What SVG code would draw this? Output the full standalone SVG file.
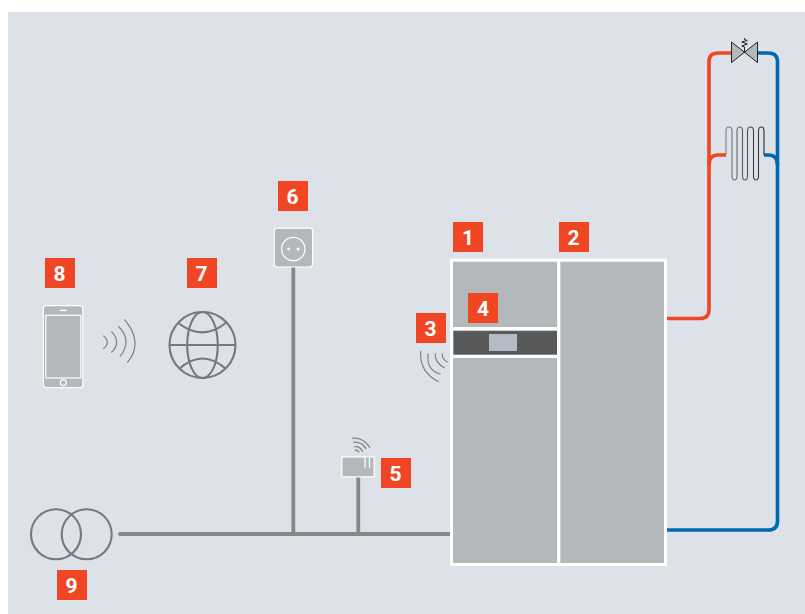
<svg xmlns="http://www.w3.org/2000/svg" width="805" height="614" viewBox="0 0 805 614">
<style>
.badge rect{fill:#f04623}
.badge text{font-family:"Roboto","Liberation Sans",sans-serif;font-weight:700;font-size:21px;fill:#fff;text-anchor:middle}
.wave{fill:none;stroke:#7d8488;stroke-width:1.2}
.icon{fill:none;stroke:#75797b;stroke-width:2.1}
.line{fill:none;stroke:#fff;stroke-width:1.2}
.body{fill:#b3b8bb;stroke:#fff;stroke-width:1.2}
.bus{fill:none;stroke:#858789;stroke-width:3.8;stroke-linecap:round}
.hot{fill:none;stroke:#f04623;stroke-width:3.6}
.cold{fill:none;stroke:#0069b4;stroke-width:3.6}
</style>
<defs>
<linearGradient id="tube" gradientUnits="userSpaceOnUse" x1="725" y1="0" x2="765" y2="0">
<stop offset="0" stop-color="#808285"/>
<stop offset="1" stop-color="#2a2a2c"/>
</linearGradient>
</defs>
<rect width="805" height="614" fill="#fff"/>
<rect x="8" y="12" width="797" height="602" fill="#dde2e9"/>
<g id="connectors">
<path class="bus" d="M120 534H450M293.300 268V534M358.300 477V534"/>
<path class="hot" d="M667 318.500H700Q709 318.500 709 309.500V62Q709 53 718 53H733"/>
<path class="hot" d="M709 165Q709 155 718 155H726"/>
<path class="cold" d="M667 530H768.500Q777.500 530 777.500 521V62Q777.500 53 768.500 53H757"/>
<path class="cold" d="M777.500 165Q777.500 155 768.500 155H764"/>
</g>
<g id="radiator">
<path d="M726 155V131Q726 127 729 127Q732 127 732 131V175.500Q732 180 734.500 180Q737 180 737 175.500V131Q737 127 739.800 127Q742.500 127 742.500 131V175.500Q742.500 180 745 180Q747.500 180 747.500 175.500V131Q747.500 127 750.500 127Q753.500 127 753.500 131V175.500Q753.500 180 756 180Q758.500 180 758.500 175.500V131Q758.500 127 761.300 127Q764 127 764 131V155" fill="none" stroke="url(#tube)" stroke-width="1.100"/>
</g>
<g id="valve">
<path d="M731.500 42L757.500 62.500V42L731.500 62.500Z" fill="#b3b8bb" stroke="#222" stroke-width="1"/>
<path d="M744.500 52V47L741.800 46L747.300 44L741.800 42L747.300 40.500L744.500 39.500V38" fill="none" stroke="#222" stroke-width="1"/>
</g>
<g id="node-1-2">
<rect x="451.500" y="260.200" width="214" height="304.300" fill="#b3b8bb" stroke="#fff" stroke-width="3"/>
<path d="M558.700 260V565" stroke="#fff" stroke-width="3.200"/>
</g>
<g id="node-4">
<rect x="453" y="327" width="104" height="31" fill="#fff"/>
<rect x="453.300" y="330.700" width="103.700" height="24" fill="#58595b"/>
<rect x="489" y="334" width="28" height="17" fill="#b3bac3"/>
</g>
<g id="node-3-waves">
<path class="wave" d="M420.700 351Q419 372 438.700 381.700M428.300 353.300Q425.500 369.600 440.700 374.300M435.300 353.300Q434.600 362.800 444.700 368M442.300 353.300Q441.600 358.800 447.700 362.300"/>
</g>
<g id="node-5-device">
<rect x="341.900" y="456.900" width="32.200" height="20" class="body"/>
<path class="line" d="M365 457V467.700M369.500 457V467.700"/>
<path class="wave" d="M352.300 438.300Q363 437 370 447.700M353.300 442.300Q362 441.500 366 449M354.300 446.700Q360 446 362.700 451.700M355 450Q358 450 359.300 452.300" style="stroke-width:1.300"/>
</g>
<g id="node-6-socket">
<rect x="274.200" y="228.200" width="38.400" height="38.800" rx="3" class="body"/>
<circle cx="293.300" cy="249" r="11.700" class="line"/>
<circle cx="288.700" cy="249" r="1.500" fill="#fff"/>
<circle cx="298" cy="249" r="1.500" fill="#fff"/>
</g>
<g id="node-7-globe">
<circle class="icon" cx="202.500" cy="345" r="33"/>
<ellipse class="icon" cx="202.500" cy="345" rx="15.300" ry="33"/>
<path class="icon" d="M169.500 345H235.500M178 322.700Q202.500 342 226 322.700M179 369Q202.500 348 226 369"/>
</g>
<g id="node-8-phone">
<rect x="43.300" y="305.700" width="39.500" height="82" rx="3" class="body"/>
<rect x="45.800" y="315.300" width="35" height="62.700" class="line"/>
<path d="M60 310.400H66.700" class="line" style="stroke-width:1.500"/>
<circle cx="63.300" cy="382.700" r="3" class="line"/>
<path class="wave" d="M103.300 335.700Q111.300 342.300 103.300 349M111.300 331.300Q122 342 111.300 352.700M118.300 326.300Q132.800 340 120 356.700M124.300 319.300Q144.200 342.400 127.300 362.700"/>
</g>
<g id="node-9-transformer">
<circle class="icon" cx="56" cy="534.300" r="25"/>
<circle class="icon" cx="86.700" cy="534.300" r="25"/>
</g>
<g class="badge" id="badge-1"><rect x="453" y="222" width="30" height="30"/><text x="468" y="244.500">1</text></g>
<g class="badge" id="badge-2"><rect x="559" y="222" width="30" height="30"/><text x="573.500" y="244.500">2</text></g>
<g class="badge" id="badge-3"><rect x="416" y="313" width="30" height="30"/><text x="430.500" y="335.500">3</text></g>
<g class="badge" id="badge-4"><rect x="468" y="293" width="30" height="30"/><text x="483" y="315.500">4</text></g>
<g class="badge" id="badge-5"><rect x="381" y="458" width="30" height="30"/><text x="395.500" y="480.500">5</text></g>
<g class="badge" id="badge-6"><rect x="278" y="181" width="30" height="30"/><text x="292.500" y="203.500">6</text></g>
<g class="badge" id="badge-7"><rect x="187" y="258" width="30" height="30"/><text x="201.500" y="280.500">7</text></g>
<g class="badge" id="badge-8"><rect x="45" y="258" width="30" height="30"/><text x="59.500" y="280.500">8</text></g>
<g class="badge" id="badge-9"><rect x="57" y="570" width="30" height="30"/><text x="71.500" y="592.500">9</text></g>
</svg>
